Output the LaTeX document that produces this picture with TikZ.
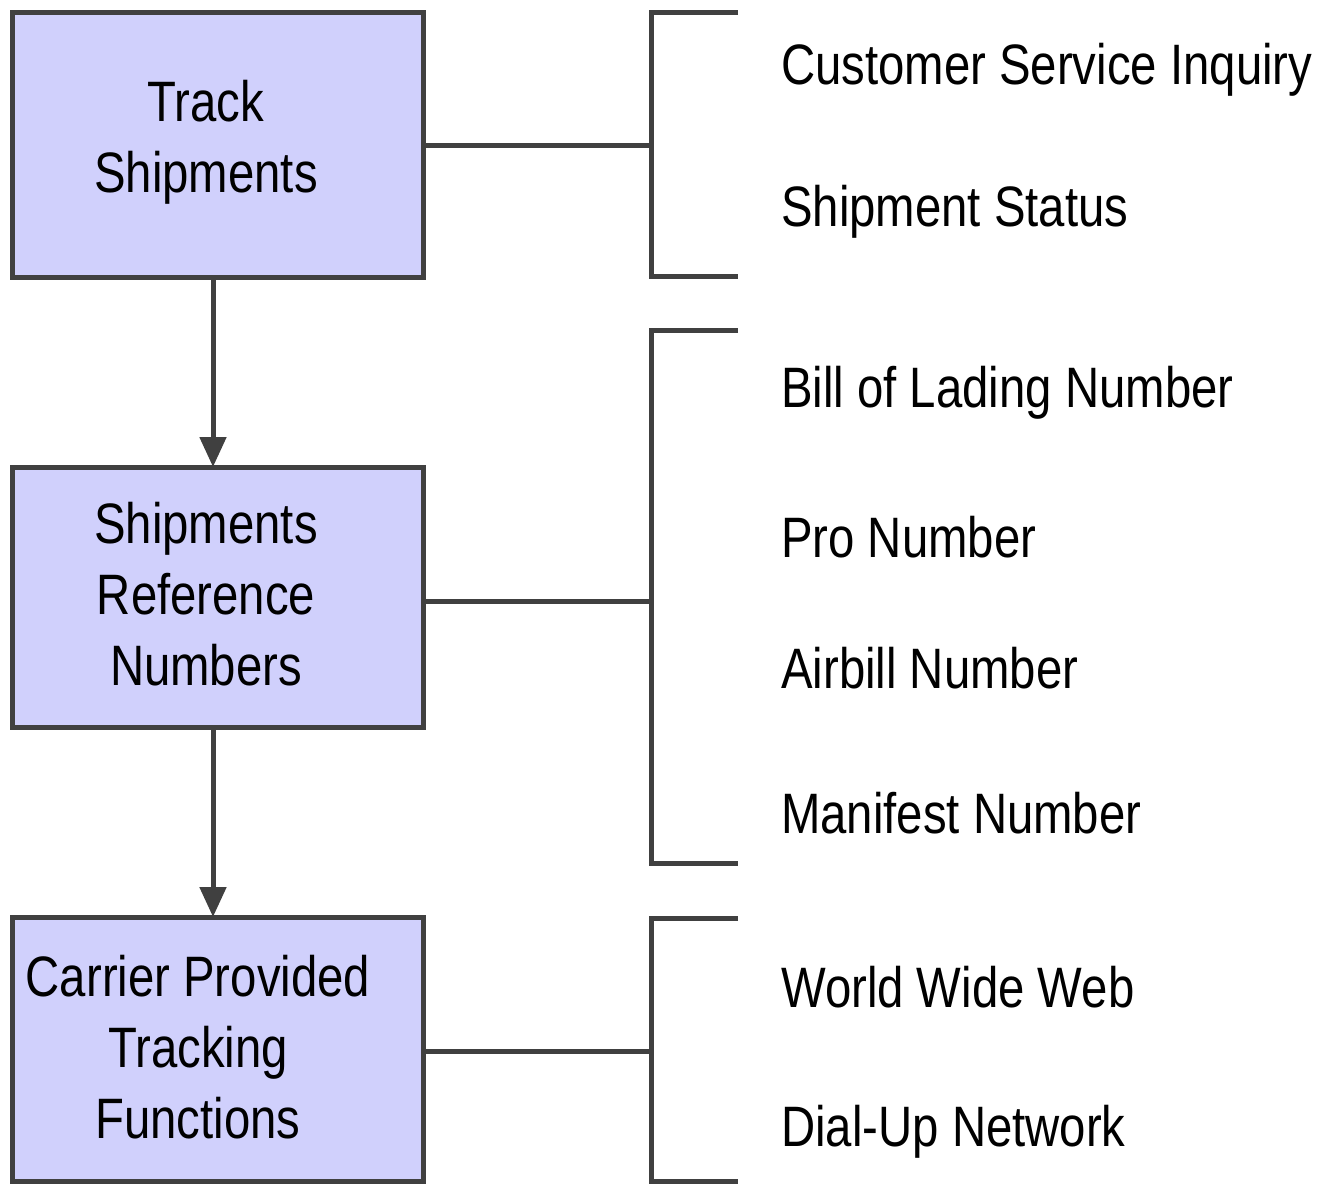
\documentclass[tikz,border=0pt]{standalone}
\usepackage{fontspec}
\setmainfont[FakeStretch=0.83]{Liberation Sans}
\usetikzlibrary{arrows.meta}
\definecolor{boxfill}{RGB}{208,208,252}
\definecolor{linegray}{RGB}{64,64,64}
\begin{document}
\begin{tikzpicture}[x=1pt,y=-1pt,
  box/.style={draw=linegray,fill=boxfill,line width=5pt},
  conn/.style={draw=linegray,line width=5pt},
  arr/.style={draw=linegray,line width=5pt,-{Triangle[length=30pt,width=26pt]}},
  boxtext/.style={align=center,font=\fontsize{57}{71}\selectfont,inner sep=0pt},
  item/.style={anchor=west,font=\fontsize{57}{68}\selectfont,inner sep=0pt}]
\useasboundingbox (0,0) rectangle (1335,1183);
% boxes
\draw[box] (12,12) rectangle (423,277);
\draw[box] (12,467) rectangle (423,727);
\draw[box] (12,917) rectangle (423,1181);
\coordinate (b1s) at (213,277);
\coordinate (b2n) at (213,467);
\coordinate (b2s) at (213,727);
\coordinate (b3n) at (213,917);
\coordinate (b1e) at (423,145);
\coordinate (b2e) at (423,601);
\coordinate (b3e) at (423,1051);
\node[boxtext] (t1) at (206,142) {Track\\Shipments};
\node[boxtext] (t2) at (206,594) {Shipments\\Reference\\Numbers};
\node[boxtext] (t3) at (198,1047) {Carrier Provided\\Tracking\\Functions};
% arrows
\draw[arr] (b1s) -- (b2n);
\draw[arr] (b2s) -- (b3n);
% brackets
\coordinate (k1) at (651,145);
\coordinate (k2) at (651,601);
\coordinate (k3) at (651,1051);
\draw[conn] (b1e) -- (k1);
\draw[conn] (b2e) -- (k2);
\draw[conn] (b3e) -- (k3);
\draw[conn] (738,12) -- (651,12) -- (651,276) -- (738,276);
\draw[conn] (738,330) -- (651,330) -- (651,863) -- (738,863);
\draw[conn] (738,918) -- (651,918) -- (651,1181) -- (738,1181);
% items
\node[item] (i1) at (781,70) {Customer Service Inquiry};
\node[item] (i2) at (781,212) {Shipment Status};
\node[item] (i3) at (781,393) {Bill of Lading Number};
\node[item] (i4) at (781,537) {Pro Number};
\node[item] (i5) at (781,668) {Airbill Number};
\node[item] (i6) at (781,813) {Manifest Number};
\node[item] (i7) at (781,987) {World Wide Web};
\node[item] (i8) at (781,1132) {Dial-Up Network};
\end{tikzpicture}
\end{document}
